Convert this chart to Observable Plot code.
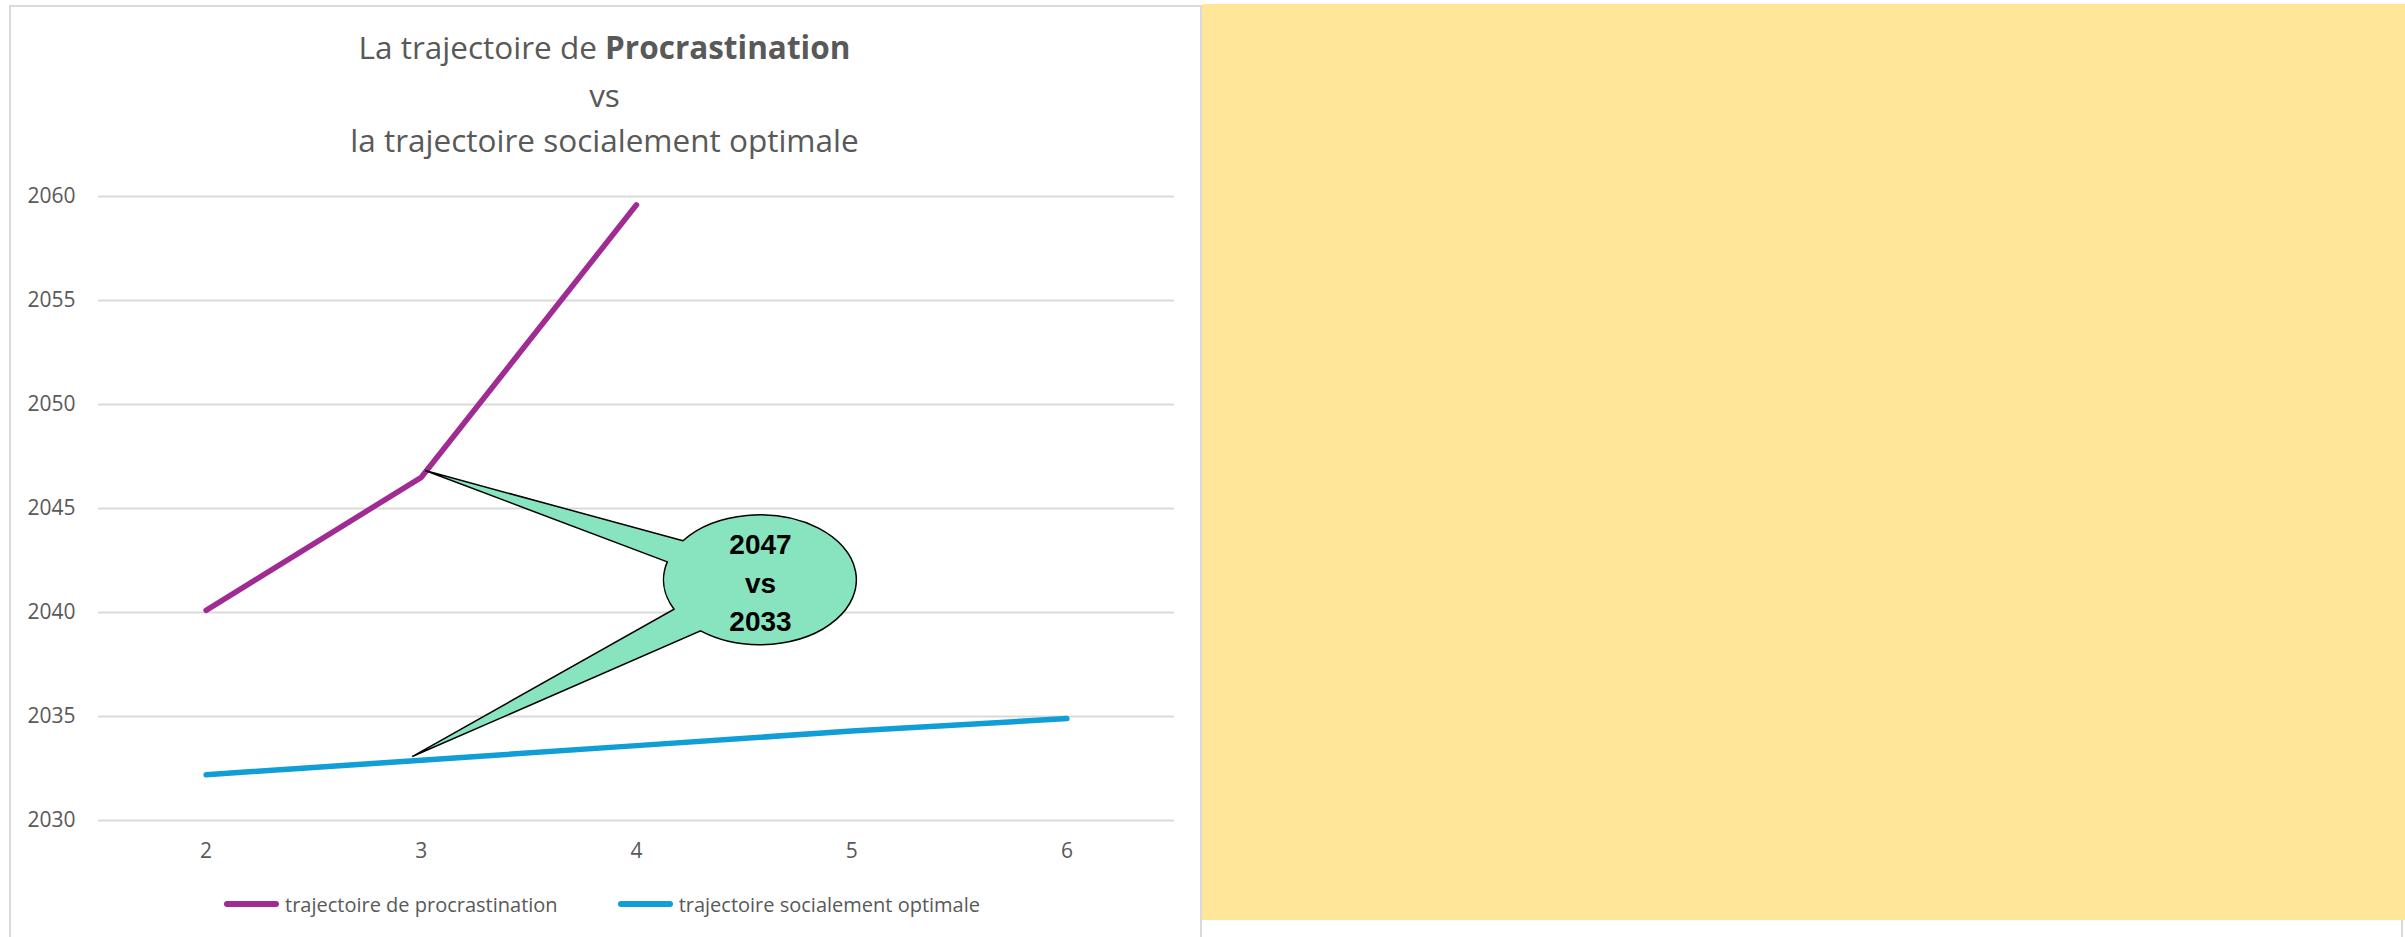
<!DOCTYPE html>
<html>
<head>
<meta charset="utf-8">
<script src="https://cdn.jsdelivr.net/npm/d3@7"></script>
<script src="https://cdn.jsdelivr.net/npm/@observablehq/plot@0.6"></script>
<style>
  html, body { margin: 0; padding: 0; background: #fff; }
  body { width: 2405px; height: 937px; position: relative; overflow: hidden; font-family: "Open Sans", sans-serif; }
  .box { position: absolute; box-sizing: border-box; border: 2px solid #d9d9d9; border-bottom: none; }
  #yellow { position: absolute; left: 1202px; top: 4px; width: 1203px; height: 916px; background: #FFE699; }
  .title { position: absolute; left: 9px; width: 1191px; text-align: center; color: #595959; font-size: 31.5px; line-height: 40px; white-space: nowrap; }
  #chart { position: absolute; left: 0; top: 160px; }
  #legend { position: absolute; top: 892px; left: 224px; height: 24px; display: flex; align-items: center; color: #595959; font-size: 20px; white-space: nowrap; }
  .sw { display: inline-block; width: 55px; height: 6px; border-radius: 3px; margin-right: 6px; }
  .item { display: flex; align-items: center; }
</style>
</head>
<body>
<div class="box" style="left:9px;top:5px;width:1193px;height:940px;"></div>
<div class="box" style="left:1200px;top:5px;width:1203px;height:940px;"></div>
<div id="yellow"></div>
<div class="title" style="top:27px;">La trajectoire de <b>Procrastination</b></div>
<div class="title" style="top:75px;">vs</div>
<div class="title" style="top:120px;">la trajectoire socialement optimale</div>
<div id="chart"></div>
<div id="legend"></div>
<script>
// ---- data ----
const categories = [2, 3, 4, 5, 6];
const procrastinationValues = [2040.1, 2046.5, 2059.6];           // x = 2, 3, 4
const optimaleValues = [2032.2, 2032.9, 2033.6, 2034.3, 2034.9];   // x = 2..6
const yTicks = [2030, 2035, 2040, 2045, 2050, 2055, 2060];
const seriesNames = ["trajectoire de procrastination", "trajectoire socialement optimale"];
const seriesColors = ["#A02B93", "#0F9ED5"];
const calloutText = "2047\nvs\n2033";

// ---- annotation geometry (data coordinates) ----
const callout = {
  cx: 4.576, cy: 2041.55, rx: 0.448, ry: 3.12,
  tip1: [3.02, 2046.8], tip2: [2.96, 2033.05],
  a1: -143, a2: -164, b1: 153, b2: 128
};

const rowsP = procrastinationValues.map((v, i) => ({x: categories[i], y: v}));
const rowsO = optimaleValues.map((v, i) => ({x: categories[i], y: v}));

function calloutMark(index, scales) {
  const {x, y} = scales;
  const cx = x(callout.cx), cy = y(callout.cy);
  const rx = x(callout.cx + callout.rx) - cx;
  const ry = y(callout.cy - callout.ry) - cy;
  const P = a => [cx + rx * Math.cos(a * Math.PI / 180), cy + ry * Math.sin(a * Math.PI / 180)].join(",");
  const t1 = [x(callout.tip1[0]), y(callout.tip1[1])].join(",");
  const t2 = [x(callout.tip2[0]), y(callout.tip2[1])].join(",");
  const d = `M${P(callout.a1)}L${t1}L${P(callout.a2)}A${rx},${ry} 0 0 0 ${P(callout.b1)}L${t2}L${P(callout.b2)}A${rx},${ry} 0 1 0 ${P(callout.a1)}Z`;
  const g = d3.create("svg:g");
  g.append("path").attr("d", d).attr("fill", "#88E4BE").attr("stroke", "#000").attr("stroke-width", 1.5).attr("stroke-linejoin", "miter");
  return g.node();
}

const plot = Plot.plot({
  width: 1200,
  height: 720,
  marginLeft: 98,
  marginRight: 26,
  marginTop: 36,
  marginBottom: 60,
  style: {fontFamily: "Open Sans", fontSize: "21px", color: "#595959", background: "transparent", overflow: "visible"},
  x: {type: "linear", domain: [1.5, 6.5]},
  y: {domain: [2030, 2060]},
  marks: [
    Plot.gridY(yTicks, {stroke: "#d9d9d9", strokeOpacity: 1, strokeWidth: 2}),
    Plot.axisY({ticks: yTicks, tickSize: 0, tickPadding: 23, tickFormat: d => String(d), label: null}),
    Plot.axisX({ticks: categories, tickSize: 0, tickPadding: 23, tickFormat: d => String(d), label: null}),
    Plot.line(rowsP, {x: "x", y: "y", stroke: seriesColors[0], strokeWidth: 5.5, strokeLinecap: "round", strokeLinejoin: "round"}),
    Plot.line(rowsO, {x: "x", y: "y", stroke: seriesColors[1], strokeWidth: 5.5, strokeLinecap: "round", strokeLinejoin: "round"}),
    calloutMark,
    Plot.text([{x: callout.cx, y: callout.cy, t: calloutText}], {x: "x", y: "y", text: "t", fill: "#000", fontWeight: "bold", fontSize: 28, lineHeight: 1.375, fontFamily: "Liberation Sans"})
  ]
});
document.getElementById("chart").appendChild(plot);

const legend = document.getElementById("legend");
seriesNames.forEach((name, i) => {
  const item = document.createElement("div");
  item.className = "item";
  if (i > 0) item.style.marginLeft = "60px";
  const sw = document.createElement("span");
  sw.className = "sw";
  sw.style.background = seriesColors[i];
  const lab = document.createElement("span");
  lab.textContent = name;
  item.appendChild(sw);
  item.appendChild(lab);
  legend.appendChild(item);
});
</script>
</body>
</html>
